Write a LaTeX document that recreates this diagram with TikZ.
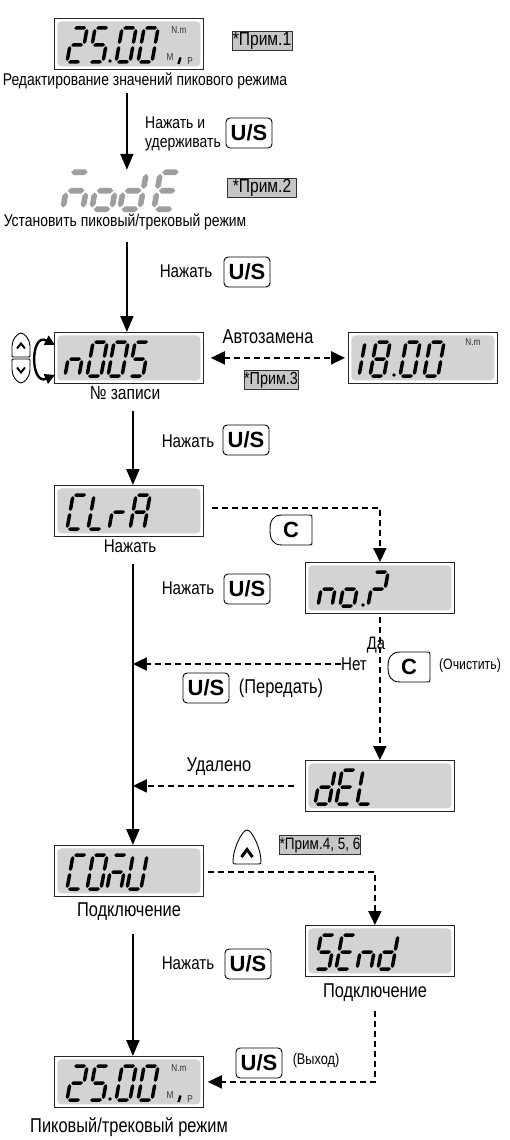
\documentclass[tikz,border=0pt]{standalone}
\usepackage{fontspec}
\setmainfont[FakeStretch=0.82]{Liberation Sans}
\newfontfamily\keyfont{Liberation Sans}
\usetikzlibrary{arrows.meta,calc}

\definecolor{lcdgray}{HTML}{D3D3D3}
\definecolor{notegray}{HTML}{C6C6C6}
\definecolor{modegray}{HTML}{9E9E9E}

% seven-segment cell: width, height, slant, half stroke, gap
\def\sgW{14}\def\sgH{34}\def\sgS{0.18}\def\sgT{1.75}\def\sgG{1.1}
\newcommand\hseg[3]{\fill ({#1},{#3}) -- ({#1+\sgT},{#3+\sgT}) -- ({#2-\sgT},{#3+\sgT}) -- ({#2},{#3}) -- ({#2-\sgT},{#3-\sgT}) -- ({#1+\sgT},{#3-\sgT}) -- cycle;}
\newcommand\vseg[3]{\fill ({#1},{#2}) -- ({#1+\sgT},{#2+\sgT}) -- ({#1+\sgT},{#3-\sgT}) -- ({#1},{#3}) -- ({#1-\sgT},{#3-\sgT}) -- ({#1-\sgT},{#2+\sgT}) -- cycle;}
\def\segA{\hseg{\sgG}{\sgW-\sgG}{\sgH}}
\def\segB{\vseg{\sgW}{\sgH/2+\sgG}{\sgH-\sgG}}
\def\segC{\vseg{\sgW}{\sgG}{\sgH/2-\sgG}}
\def\segD{\hseg{\sgG}{\sgW-\sgG}{0}}
\def\segE{\vseg{0}{\sgG}{\sgH/2-\sgG}}
\def\segF{\vseg{0}{\sgH/2+\sgG}{\sgH-\sgG}}
\def\segG{\hseg{\sgG}{\sgW-\sgG}{\sgH/2}}
% one slanted character cell, origin = bottom-left of the cell
\newcommand\segchar[3][]{%
  \begin{scope}[shift={#2}, y=1pt, xslant=\sgS, #1]
    \edef\sglist{#3}%
    \foreach \sgx in \sglist {\csname seg\sgx\endcsname}
  \end{scope}}
\newcommand\glyph[4][]{\segchar[#1]{($(#2.north west)+(#3,44)$)}{#4}}
\newcommand\lcddot[2]{\fill ($(#1.north west)+(#2)$) circle (1.9);}
\newcommand\lcdunits[1]{%
  \node[unit] (#1-nm) at ($(#1.north west)+(125,12)$) {N.m};
  \node[unit] (#1-m) at ($(#1.north west)+(116,39)$) {M};
  \draw[line width=2.4pt] ($(#1.north west)+(124.5,46)$) -- ($(#1.north west)+(126.5,39.5)$);
  \node[unit] (#1-p) at ($(#1.north west)+(136,43)$) {P};}

% segment sets
\def\lcdTwo{A,B,G,E,D}
\def\lcdFive{A,F,G,C,D}
\def\lcdZero{A,B,C,D,E,F}
\def\lcdOne{B,C}
\def\lcdEight{A,B,C,D,E,F,G}
\def\lcdn{C,E,G}
\def\lcdo{C,D,E,G}
\def\lcdd{B,C,D,E,G}
\def\lcdE{A,F,G,E,D}
\def\lcdC{A,F,E,D}
\def\lcdL{F,E,D}
\def\lcdr{E,G}
\def\lcdA{A,B,C,E,F,G}
\def\lcdQ{A,B,G,E}
\def\lcdU{B,C,D,E,F}
\def\lcdM{A,G,E,C}

\tikzset{
  txt/.style={font=\fontsize{#1}{#1}\selectfont, inner sep=0pt},
  note/.style={draw=black!80, fill=notegray, line width=0.9pt, font=\fontsize{19}{19}\selectfont,
    inner sep=0pt, minimum height=19pt, minimum width=#1},
  key/.style={draw, line width=0.9pt, rounded corners=4pt, font=\keyfont\bfseries\fontsize{22}{22}\selectfont,
    minimum width=46pt, minimum height=30pt, inner sep=0pt},
  keytext/.style={font=\keyfont\bfseries\fontsize{22}{22}\selectfont, inner sep=0pt},
  keyline/.style={draw, line width=0.9pt},
  unit/.style={font=\fontsize{10}{10}\selectfont, text=black!80, inner sep=0pt},
  lcd/.style={draw=black!85, line width=0.8pt, fill=white, minimum width=149pt, minimum height=51pt,
    inner sep=0pt, anchor=north west,
    path picture={\fill[lcdgray, rounded corners=4pt]
      ([shift={(3pt,-3pt)}]path picture bounding box.north west) rectangle
      ([shift={(-3pt,3pt)}]path picture bounding box.south east);}},
  flow/.style={line width=2pt, -{Triangle[length=16pt,width=13pt]}},
  dflow/.style={line width=2pt, dash pattern=on 6pt off 4pt, -{Triangle[length=14pt,width=13pt]}},
}

\begin{document}
\begin{tikzpicture}[x=1pt, y=-1pt]
\useasboundingbox (0,0) rectangle (509,1140);
\fill[white] (0,0) rectangle (509,1140);

% ---------- peak value screen
\node[lcd] (d1) at (54,18) {};
\glyph{d1}{13}{\lcdTwo}
\glyph{d1}{35}{\lcdFive}
\lcddot{d1}{56,43}
\glyph{d1}{62}{\lcdZero}
\glyph{d1}{84}{\lcdZero}
\lcdunits{d1}
\node[note=60pt] (n1) at (262,41) {*Прим.1};
\node[txt=17] (cap1) at (145,81) {Редактирование значений пикового режима};
\coordinate (spineA) at ($(d1.south)+(-2,0)$);

\node[font=\fontsize{17}{18.5}\selectfont, inner sep=0pt, align=left, anchor=west] (lab1) at (145,134) {Нажать и\\удерживать};
\node[key] (us1) at (249,133) {U/S};

% ---------- mode selection (unframed)
\node[minimum width=120pt, minimum height=42pt, inner sep=0pt] (dmode) at (122,191) {};
\begin{scope}
  \def\sgW{20}\def\sgH{37}\def\sgT{2.8}\def\sgG{1.7}
  \segchar[fill=modegray]{($(dmode.south west)+(1,-3)$)}{\lcdM}
  \segchar[fill=modegray]{($(dmode.south west)+(30,-3)$)}{\lcdo}
  \segchar[fill=modegray]{($(dmode.south west)+(58,-3)$)}{\lcdd}
  \segchar[fill=modegray]{($(dmode.south west)+(92,-3)$)}{\lcdE}
\end{scope}
\node[note=69pt] (n2) at (262,188) {*Прим.2};
\node[txt=17] (cap2) at (125,222) {Установить пиковый/трековый режим};

\node[txt=18.5] (lab2) at (186,271) {Нажать};
\node[key] (us2) at (247,272) {U/S};

% ---------- record number screen
\node[lcd] (drec) at (54,332) {};
\glyph{drec}{11}{\lcdn}
\glyph{drec}{33}{\lcdZero}
\glyph{drec}{54}{\lcdZero}
\glyph{drec}{75}{\lcdFive}
\node[txt=19] (cap3) at (125,393) {№ записи};

% up / down keys with the scroll arrow
\coordinate (kup) at (21,345);
\coordinate (kdown) at (21,371);
\begin{scope}[shift={(kup)}]
  \draw[keyline] (-7,12) -- (7,12) .. controls (9,12) .. (9,10) -- (9,1) .. controls (9,-6) and (3,-12) .. (0,-12)
    .. controls (-3,-12) and (-9,-6) .. (-9,1) -- (-9,10) .. controls (-9,12) .. (-7,12) -- cycle;
  \draw[line width=1.9pt] (-4,3.5) -- (0,-1.5) -- (4,3.5);
\end{scope}
\begin{scope}[shift={(kdown)}, yscale=-1]
  \draw[keyline] (-7,12) -- (7,12) .. controls (9,12) .. (9,10) -- (9,1) .. controls (9,-6) and (3,-12) .. (0,-12)
    .. controls (-3,-12) and (-9,-6) .. (-9,1) -- (-9,10) .. controls (-9,12) .. (-7,12) -- cycle;
  \draw[line width=1.9pt] (-4,3.5) -- (0,-1.5) -- (4,3.5);
\end{scope}
\draw[line width=2.4pt, {Triangle[length=10pt,width=10pt]}-{Triangle[length=10pt,width=10pt]}]
  ($(drec.west)+(1,-13)$) .. controls ($(drec.west)+(-24,-26)$) and ($(drec.west)+(-24,28)$) .. ($(drec.west)+(1,17)$);

% ---------- alternating value screen
\node[lcd] (dval) at (348,332) {};
\glyph{dval}{-3}{\lcdOne}
\glyph{dval}{22}{\lcdEight}
\lcddot{dval}{46,43}
\glyph{dval}{52}{\lcdZero}
\glyph{dval}{76}{\lcdZero}
\node[unit] (dval-nm) at ($(dval.north west)+(125,10)$) {N.m};
\node[txt=20] (auto) at (268,337) {Автозамена};
\node[note=54pt, font=\fontsize{17.5}{17.5}\selectfont] (n3) at (271,380) {*Прим.3};
\draw[dflow, {Triangle[length=14pt,width=13pt]}-{Triangle[length=14pt,width=13pt]}, shorten <=7pt, shorten >=3pt]
  (drec.east) -- (dval.west);

% ---------- clear-all screen
\node[txt=18.5] (lab3) at (188,441) {Нажать};
\node[key] (us3) at (246,440) {U/S};
\node[lcd] (dclr) at (54,485) {};
\glyph{dclr}{13}{\lcdC}
\glyph{dclr}{34}{\lcdL}
\glyph{dclr}{55}{\lcdr}
\glyph{dclr}{76}{\lcdA}
\node[txt=18.5] (cap4) at (130,546) {Нажать};
\coordinate (spineB) at ($(dclr.south)+(4,0)$);

\node[keytext] (c1) at (291,530) {C};
\begin{scope}[shift={(c1.center)}]
  \draw[keyline] (-9,-15) -- (18,-15) .. controls (21,-15) .. (21,-12) -- (21,12) .. controls (21,15) .. (18,15)
    -- (-9,15) .. controls (-19,15) and (-21,8) .. (-21,0) .. controls (-21,-8) and (-19,-15) .. (-9,-15) -- cycle;
\end{scope}

\node[txt=18.5] (lab4) at (188,588) {Нажать};
\node[key] (us4) at (247,589) {U/S};

% ---------- confirmation screen
\node[lcd] (dno) at (305,562) {};
\glyph{dno}{13}{\lcdn}
\glyph{dno}{35}{\lcdo}
\lcddot{dno}{58,43}
\glyph{dno}{63}{\lcdQ}
\node[txt=18] (da) at (376,645) {Да};
\node[txt=18.5] (net) at (354,664) {Нет};
\node[keytext] (c2) at (409,667) {C};
\begin{scope}[shift={(c2.center)}]
  \draw[keyline] (-9,-15) -- (18,-15) .. controls (21,-15) .. (21,-12) -- (21,12) .. controls (21,15) .. (18,15)
    -- (-9,15) .. controls (-19,15) and (-21,8) .. (-21,0) .. controls (-21,-8) and (-19,-15) .. (-9,-15) -- cycle;
\end{scope}
\node[txt=15] (clean) at (470,666) {(Очистить)};
\node[key] (us5) at (206,688) {U/S};
\node[txt=20] (transmit) at (281,688) {(Передать)};

% ---------- deleted screen
\node[lcd] (ddel) at (305,760) {};
\glyph{ddel}{10}{\lcdd}
\glyph{ddel}{31}{\lcdE}
\glyph{ddel}{52}{\lcdL}
\node[txt=20] (deleted) at (219,767) {Удалено};

% ---------- connection screen
\node[lcd] (dconu) at (54,845) {};
\glyph{dconu}{13}{\lcdC}
\glyph{dconu}{33}{\lcdZero}
\glyph{dconu}{53}{\lcdM}
\glyph{dconu}{73}{\lcdU}
\node[txt=20] (cap5) at (129,912) {Подключение};
\coordinate (upkey) at (247,847);
\begin{scope}[shift={(upkey)}]
  \draw[keyline] (-11,17) -- (11,17) .. controls (14,17) .. (14,14) .. controls (14,2) and (5,-17) .. (0,-17)
    .. controls (-5,-17) and (-14,2) .. (-14,14) .. controls (-14,17) .. (-11,17) -- cycle;
  \draw[line width=3pt] (-5.5,10) -- (0,2.5) -- (5.5,10);
\end{scope}
\node[note=78pt, font=\fontsize{16.5}{16.5}\selectfont] (n4) at (320,845) {*Прим.4, 5, 6};

% ---------- send screen
\node[lcd] (dsend) at (305,925) {};
\glyph{dsend}{10}{\lcdFive}
\glyph{dsend}{31}{\lcdE}
\glyph{dsend}{52}{\lcdn}
\glyph{dsend}{73}{\lcdd}
\node[txt=20] (cap6) at (375,993) {Подключение};

\node[txt=18.5] (lab5) at (188,963) {Нажать};
\node[key] (us6) at (248,964) {U/S};

% ---------- back to peak/track mode
\node[lcd] (dfinal) at (54,1056) {};
\glyph{dfinal}{13}{\lcdTwo}
\glyph{dfinal}{35}{\lcdFive}
\lcddot{dfinal}{56,43}
\glyph{dfinal}{62}{\lcdZero}
\glyph{dfinal}{84}{\lcdZero}
\lcdunits{dfinal}
\node[txt=20] (cap7) at (129,1127) {Пиковый/трековый режим};
\node[key] (us7) at (259,1063) {U/S};
\node[txt=15.5] (quit) at (316,1060) {(Выход)};

% ---------- main flow
\draw[flow, shorten <=4pt] (cap1.south -| spineA) -- (dmode.north -| spineA);
\draw[flow, shorten <=12pt] (cap2.south -| spineA) -- (drec.north -| spineA);
\draw[flow, shorten <=11pt] (cap3.south -| spineB) -- (dclr.north -| spineB);
\draw[flow, shorten <=11pt] (cap4.south -| spineB) -- (dconu.north -| spineB);
\draw[flow, shorten <=13pt] (cap5.south -| spineB) -- (dfinal.north -| spineB);

% ---------- side branches
\draw[dflow] ($(dclr.east)+(8,-3)$) -| (dno.north);
\draw[dflow, shorten <=3pt] (dno.south) -- (ddel.north);
\draw[dflow] (net.west) -- (net.west -| spineB);
\draw[dflow] ($(ddel.west)+(-11,0)$) -- (ddel.west -| spineB);
\draw[dflow] ($(dconu.east)+(4,1.5)$) -| ($(dsend.north)+(-5,0)$);
\draw[dflow] ($(cap6.south)+(0,9)$) |- ($(dfinal.east)+(4,0)$);
\end{tikzpicture}
\end{document}
